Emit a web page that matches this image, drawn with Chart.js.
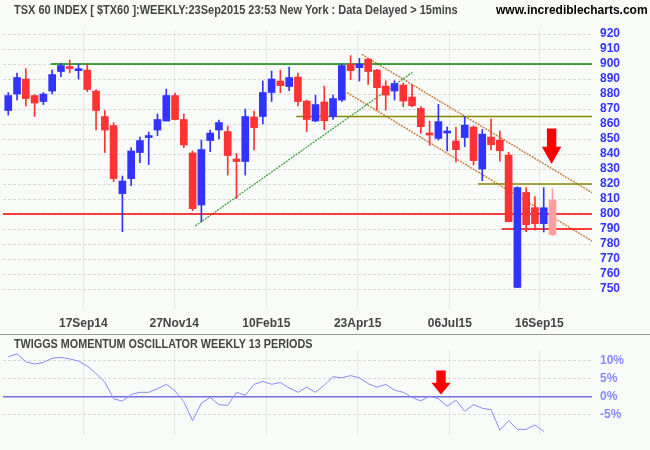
<!DOCTYPE html>
<html><head><meta charset="utf-8">
<script src="https://cdn.jsdelivr.net/npm/chart.js@4"></script>
<style>
html,body{margin:0;padding:0;background:#f9fbf9;}
#wrap{position:relative;width:650px;height:450px;overflow:hidden;font-family:"Liberation Sans",Arial,sans-serif;}
canvas{position:absolute;left:0;}
.t{position:absolute;font-weight:bold;font-size:12px;color:#444;white-space:nowrap;font-family:"Liberation Sans",Arial,sans-serif;transform-origin:0 0;}
#sep{position:absolute;left:0;top:334px;width:650px;height:0;border-top:1px solid #999;}
</style></head><body>
<div id="wrap">
<canvas id="c1" width="650" height="334" style="top:0;width:650px;height:334px"></canvas>
<canvas id="c2" width="650" height="115" style="top:335px;width:650px;height:115px"></canvas>
<div id="sep"></div>
<div class="t" style="left:14px;top:3px;transform:scaleX(0.915);">TSX 60 INDEX [ $TX60 ]:WEEKLY:23Sep2015 23:53 New York : Data Delayed &gt; 15mins</div>
<div class="t" style="left:496px;top:3px;color:#000;">www.incrediblecharts.com</div>
<div class="t" style="left:14px;top:337px;transform:scaleX(0.9);">TWIGGS MOMENTUM OSCILLATOR WEEKLY 13 PERIODS</div>
</div>
<script>
const opens =[869,880,890,879,875,882,895,897.5,895.6,896,882,865,859,813.6,823.6,841,851,856,862,879,863,840.7,806,849,856,855,836.7,835,864.7,865,881,888.7,885,891.3,875.3,862,874.7,865,876,900,897.6,903.3,896,885.3,882,886,878,870.4,853.8,850.4,854,848.7,851,858,830,851.3,849.3,839.3,751,814.4,804.2,793.6,809.3];
const highs =[881,894,897,879.5,881,896,900.4,902.7,900,900,883,869,861,825.3,844.2,851.3,854.7,866.7,883.3,880.7,866.7,842,849.3,856,862.7,858.7,840.4,870,868.7,888.7,895.3,896,898,894,876,879.3,885.3,879.3,900,905.6,903.8,903.8,896.4,888.9,888.9,887.3,886,871.6,862,873.1,858.2,857.8,864.9,858.7,856.4,863.3,855.3,841.1,818.2,817.6,811.6,817.6,816.9];
const lows  =[866,876,872,865,873,880,891.6,894.2,890,881.6,856,841,821.6,788.2,818.9,834.2,832.9,852.2,862,862.7,844.2,802.2,794.9,841.6,850,826,810.4,826,842.7,860,875,880.9,882.2,872,855,861.6,856.2,863,875,889.6,888.7,886.4,869.3,869.3,876,871.6,871.6,853.8,845.8,849.3,842,834.7,844.9,832.7,822.2,842.7,835.3,794.9,750.9,788.2,789.3,788,785.6];
const closes=[879,891,877,874,880,893,899,897,896.4,883,869,856,823.6,822,842,849,852,863,879,863,846,803.6,843,854,861,839,835,865,857.6,881,890,885.6,891,875,863,873,862.2,877,899,895.6,900,895,884.2,879.3,887,875.3,872.2,858.2,852.7,861.6,854.7,842.9,859.3,835.6,853.3,846.2,842.2,794.9,817.6,792.9,793.6,804.2,786.2];
const momentum=[11.0,11.8,9.6,9.0,9.4,10.6,10.8,10.4,9.8,8.4,6.4,4.0,-0.6,-1.2,0.6,1.2,1.2,2.2,3.4,1.6,-1.4,-6.6,-1.8,-0.2,-2.2,-2.4,1.2,0.4,3.4,4.2,3.4,3.9,2.4,1.2,2.6,1.2,3.2,5.5,5.2,5.8,5.2,3.6,2.6,3.4,1.8,1.2,-0.2,-1.2,0.2,-0.6,-2.6,-1.0,-4.0,-2.2,-3.2,-3.6,-9.2,-6.6,-9.0,-9.0,-7.8,-9.6];
const xTickPos=[9.55,19.9,30.4,40.8,51.3,61.5];
const xTickLabels=['17Sep14','27Nov14','10Feb15','23Apr15','06Jul15','16Sep15'];
const priceTicks=[750,760,770,780,790,800,810,820,830,840,850,860,870,880,890,900,910,920];
const momTicks=[-5,0,5,10];
const lineGreen900=[5.84,900,67.5,900];
const lineRed800=[0.4,800,67.5,800];
const lineRed790=[57.2,790,67.5,790];
const lineOlive865=[33.8,865,67.5,865];
const lineOlive820=[54.5,820,67.5,820];
const lineTrendUp=[22.3,792,47.1,894.7];
const lineChanUpper=[41.3,906.4,67.5,814.2];
const lineChanLower=[39.6,880.9,67.5,782];
const lineZero=[0.4,0,67.5,0];
const arrowMain=[62.9,857,833.3];
const arrowMom=[50.3,7.2,0.6];
const lastIncomplete=true;

const XMIN=0.4,XMAX=67.5;
const idx=opens.map((_,i)=>i+1);
const BLUE='#3333ff',RED='#ff3333',PINK='#ffa0a0';
const colors=idx.map((x,i)=> (lastIncomplete&&i===opens.length-1)?PINK:(closes[i]>=opens[i]?BLUE:RED));
function seg(a,color,width,dash){return {type:'line',data:[{x:a[0],y:a[1]},{x:a[2],y:a[3]}],borderColor:color,borderWidth:width,borderDash:dash||[],pointRadius:0,fill:false,order:5,tension:0};}
function arrowPlugin(a,yId){return {id:'arrow'+yId,afterDatasetsDraw(ch){const c=ch.ctx,xs=ch.scales.x,ys=ch.scales[yId];
 const x=xs.getPixelForValue(a[0]),yt=ys.getPixelForValue(a[1]),yb=ys.getPixelForValue(a[2]);
 const h=yb-yt,hw=4.7,hh=9.7,head=h*0.49;
 c.save();c.fillStyle='#ff0000';c.beginPath();
 c.moveTo(x-hw,yt);c.lineTo(x+hw,yt);c.lineTo(x+hw,yb-head);c.lineTo(x+hh,yb-head);c.lineTo(x,yb);c.lineTo(x-hh,yb-head);c.lineTo(x-hw,yb-head);c.closePath();c.fill();c.restore();}};}
const font={family:'"Liberation Sans",Arial,sans-serif',size:12,weight:'bold'};
function xScale(showLabels){return {type:'linear',min:XMIN,max:XMAX,offset:false,bounds:'ticks',
 afterBuildTicks:s=>{s.ticks=xTickPos.map(v=>({value:v}));},
 ticks:{display:showLabels,autoSkip:false,maxRotation:0,color:'#444',font,padding:6,callback:(v,i)=>xTickLabels[i]},
 grid:{color:'#e6e8e6',lineWidth:1,drawTicks:false,offset:false},border:{display:false},
 afterFit:s=>{s.height=showLabels?24:0;}};}

new Chart(document.getElementById('c1'),{
 type:'bar',
 data:{datasets:[
  {label:'wick',data:idx.map((x,i)=>({x,y:[lows[i],highs[i]]})),backgroundColor:colors,barThickness:1,grouped:false,order:1},
  {label:'body',data:idx.map((x,i)=>({x,y:[Math.min(opens[i],closes[i]),Math.max(opens[i],closes[i])]})),backgroundColor:colors,barThickness:7,minBarLength:2,grouped:false,order:0},
  seg(lineGreen900,'#008800',1.5),seg(lineRed800,'#ff0000',1.5),seg(lineRed790,'#ff0000',1.5),
  seg(lineOlive865,'#888800',1.5),seg(lineOlive820,'#888800',1.5),
  seg(lineTrendUp,'#33a033',1.2,[2,1]),seg(lineChanUpper,'#cc8040',1.5,[2,1]),seg(lineChanLower,'#cc8040',1.5,[2,1])
 ]},
 options:{responsive:false,animation:false,devicePixelRatio:1,
  layout:{padding:{left:3,top:30,right:0,bottom:0}},
  plugins:{legend:{display:false},tooltip:{enabled:false}},
  scales:{x:xScale(true),
   y:{position:'right',min:736,max:922.7,
    afterBuildTicks:s=>{s.ticks=priceTicks.map(v=>({value:v}));},
    ticks:{color:'#3333ff',font,padding:8,autoSkip:false},
    grid:{color:'#d8d8d8',drawTicks:false},border:{display:false,dash:[3,2]},
    afterFit:s=>{s.width=58;}}}},
 plugins:[arrowPlugin(arrowMain,'y')]
});

new Chart(document.getElementById('c2'),{
 type:'line',
 data:{datasets:[
  seg(lineZero,'#7070d8',1.5),
  {data:momentum.map((v,i)=>({x:i+1,y:v})),borderColor:'#8888ff',borderWidth:1,pointRadius:0,fill:false,tension:0,order:1}
 ]},
 options:{responsive:false,animation:false,devicePixelRatio:1,
  layout:{padding:{left:3,top:10,right:0,bottom:8}},
  plugins:{legend:{display:false},tooltip:{enabled:false}},
  scales:{x:xScale(false),
   y:{position:'right',min:-10.5,max:12.8,
    afterBuildTicks:s=>{s.ticks=momTicks.map(v=>({value:v}));},
    ticks:{color:'#8888ff',font,padding:8,autoSkip:false,callback:v=>v+'%'},
    grid:{color:'#d8d8d8',drawTicks:false},border:{display:false,dash:[3,2]},
    afterFit:s=>{s.width=58;}}}},
 plugins:[arrowPlugin(arrowMom,'y')]
});
</script></body></html>
